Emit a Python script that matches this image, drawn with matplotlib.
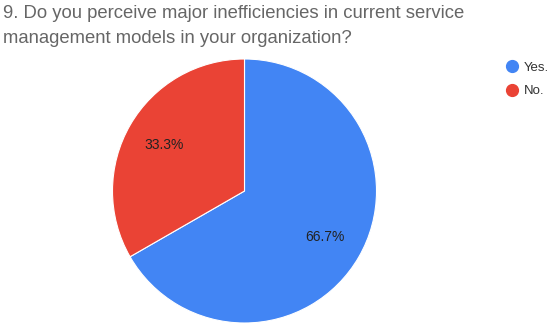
import matplotlib
matplotlib.use("Agg")
import matplotlib.pyplot as plt
from matplotlib.lines import Line2D

title = "9. Do you perceive major inefficiencies in current service\nmanagement models in your organization?"
labels = ["Yes.", "No."]
values = [66.7, 33.3]
colors = ["#4285F4", "#EA4335"]

plt.rcParams['font.family'] = ['Liberation Sans', 'DejaVu Sans']

W, H = 550, 329
fig = plt.figure(figsize=(W/100, H/100), dpi=100)
fig.patch.set_facecolor("white")

cx, cy, r = 244.5, 191, 132
ax = fig.add_axes([(cx - r)/W, (H - cy - r)/H, 2*r/W, 2*r/H])
wedges, texts, autotexts = ax.pie(values, colors=colors, startangle=90, counterclock=False,
       autopct="%.1f%%", pctdistance=0.70,
       wedgeprops=dict(edgecolor="white", linewidth=0.8),
       textprops=dict(fontsize=10, color="#222222"))
ax.set_aspect("equal")
ax.set_xlim(-1, 1)
ax.set_ylim(-1, 1)
ax.axis("off")

fig.text(3/W, 1 - 5/H, title, ha="left", va="top", fontsize=13.3, color="#666666", linespacing=1.58)

handles = [Line2D([0], [0], marker="o", linestyle="", markersize=8.5,
                  markerfacecolor=c, markeredgecolor=c) for c in colors]
fig.legend(handles, labels, loc="upper left", bbox_to_anchor=(497/W, 1 - 55/H),
           frameon=False, fontsize=9.5, handletextpad=0.3, labelspacing=0.85,
           handlelength=1.2, borderpad=0, labelcolor="#333333")

fig.savefig("out.png", dpi=100)
